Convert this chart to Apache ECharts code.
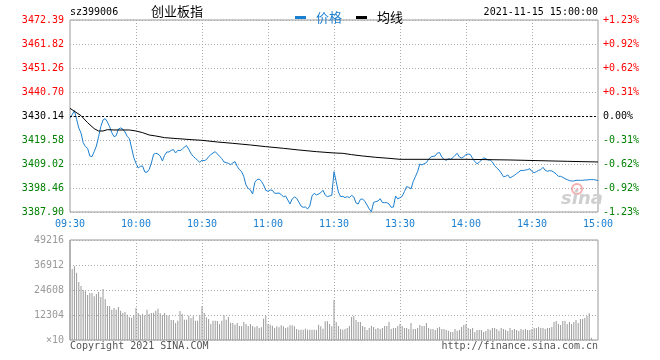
<!DOCTYPE html>
<html><head><meta charset="utf-8">
<script src="https://cdn.jsdelivr.net/npm/echarts@6/dist/echarts.min.js"></script>
<style>html,body{margin:0;padding:0;background:#fff}#c{width:660px;height:360px}</style>
</head><body><div id="c"></div>
<script>
// ---- categories: one point per trading minute (09:30..11:30, 13:01..15:00)
const times = [];
for (let m = 0; m <= 120; m++) { const t = 570 + m; times.push(String(Math.floor(t/60)).padStart(2,'0') + ':' + String(t%60).padStart(2,'0')); }
for (let m = 1; m <= 120; m++) { const t = 780 + m; times.push(String(Math.floor(t/60)).padStart(2,'0') + ':' + String(t%60).padStart(2,'0')); }

const timeLabels = ['09:30','10:00','10:30','11:00','11:30','13:30','14:00','14:30','15:00'];
const priceTicks = ['3387.90','3398.46','3409.02','3419.58','3430.14','3440.70','3451.26','3461.82','3472.39'];
const pctTicks = ['-1.23%','-0.92%','-0.62%','-0.31%','0.00%','+0.31%','+0.62%','+0.92%','+1.23%'];
const volTicks = ['\u00d710','12304','24608','36912','49216'];

const priceMin = 3387.90, priceMax = 3472.39, prevClose = 3430.14;
const volMax = 49216;

// price (blue line), read per minute
const price = [
3429.12,3430.74,3432.50,3428.68,3424.87,3422.67,3418.42,3416.66,3415.92,3412.55,
3412.26,3414.46,3416.95,3421.06,3425.46,3428.39,3428.98,3427.51,3425.46,3422.82,
3421.06,3421.50,3424.43,3424.87,3424.43,3423.11,3421.20,3420.18,3416.07,3411.82,
3409.32,3407.27,3408.00,3408.15,3405.51,3405.36,3406.68,3409.47,3413.28,3413.72,
3413.43,3412.55,3410.35,3412.84,3414.31,3414.31,3415.04,3415.34,3413.87,3415.04,
3414.90,3415.48,3416.51,3417.10,3415.48,3413.58,3412.40,3411.52,3410.64,3409.76,
3410.70,
3410.50,3410.94,3412.26,3413.14,3413.87,3414.46,3413.43,3412.40,3411.38,3409.91,
3409.62,3409.32,3408.74,3409.47,3410.06,3408.00,3406.54,3405.66,3403.46,3399.79,
3398.32,3397.59,3395.83,3400.96,3402.14,3402.43,3401.40,3399.79,3397.44,3397.00,
3397.59,3397.44,3396.12,3396.12,3396.27,3395.54,3394.66,3394.95,3393.19,3391.43,
3393.63,3394.51,3393.92,3392.31,3390.55,3389.96,3390.11,3389.23,3390.55,3394.95,
3396.12,3395.39,3395.83,3396.42,3397.44,3395.39,3394.66,3394.95,3395.24,3405.66,
3401.26,3396.71,3394.66,3394.80,3394.22,3394.66,3394.22,3395.24,3394.51,3391.87,
3391.43,3393.48,3393.63,3392.60,3390.99,3389.23,3388.06,3392.16,3392.46,3392.75,
3393.78,3392.02,3392.02,3392.02,3391.43,3389.96,3390.11,3394.95,3393.63,3394.22,
3394.80,3396.86,3399.06,3398.76,3398.03,3401.26,3403.46,3405.66,3409.03,3408.59,
3409.18,3409.62,3411.08,3412.11,3412.40,3412.55,3413.87,3414.02,3412.11,3411.08,
3410.64,3411.38,3411.08,3411.82,3412.84,3413.72,3412.11,3411.67,3412.26,3413.14,
3413.43,3413.14,3411.52,3410.06,3409.18,3409.76,3410.79,3411.67,3411.38,3410.79,
3410.79,3409.91,3408.30,3407.27,3406.39,3405.07,3403.46,3403.60,3404.19,3402.87,
3403.46,3404.04,3404.78,3405.51,3406.24,3406.10,3406.39,3406.54,3406.98,3405.66,
3405.22,3405.66,3406.24,3406.54,3407.56,3406.24,3405.80,3406.10,3405.95,3405.36,
3404.63,3403.60,3403.60,3403.16,3402.58,3402.14,3401.70,3401.55,3401.55,3401.84,
3401.84,3401.84,3401.84,3401.99,3401.99,3402.14,3402.14,3402.14,3401.99,3401.70
];

// average line (black), read at these minute indices
const avgIndex = [0,5,8,11,13,15,17,20,27,30,33,36,39,43,49,55,60,67,74,82,89,97,104,112,120,124,128,133,139,145,150,180,200,226,240];
const avgValue = [3433.52,3430.30,3427.22,3424.58,3423.55,3423.55,3424.14,3423.99,3423.99,3423.55,3422.82,3421.79,3421.35,3420.62,3420.18,3419.74,3419.44,3418.71,3418.12,3417.39,3416.66,3415.92,3415.19,3414.46,3413.87,3413.72,3413.14,3412.55,3411.96,3411.52,3411.08,3411.08,3410.79,3410.20,3409.91];

// volume (x10), read per minute
const volume = [
49216,34943,36255,33138,28545,26576,24608,23951,22147,23131,
23131,21491,22639,23623,21162,25100,20178,16733,16733,14929,
15749,14929,16241,14436,13288,13780,12468,11319,10991,12140,
15749,13288,12140,12796,12140,14929,12796,13288,13452,14436,
15421,13124,12140,13288,12140,11976,9843,9843,8367,9515,
14272,12796,10007,10007,11976,10827,11648,9515,9515,12140,
16569,13288,11155,10335,7874,9515,9515,9351,7874,9515,
12140,10007,11319,8367,8367,7546,8367,6890,6890,8859,
7874,6890,7874,6890,6234,6890,5906,6234,10499,11812,
7874,7546,7054,5906,6726,6234,7218,6726,5906,6234,
7218,7218,6726,5414,5086,5086,5086,5578,5086,5086,
5086,5086,4922,7546,6726,5578,9187,9187,7874,6726,
19686,
8859,6890,5414,5086,5414,5906,6890,11319,11812,9843,
8859,8859,6890,6398,4922,5906,6890,6398,5414,5906,
5414,5906,6890,6890,8859,5414,5906,5906,6890,7874,
6890,5906,5906,5414,8367,5414,5414,5906,7382,6890,
6890,8367,5906,5414,5414,4922,5906,6398,5414,5414,
4922,4593,3937,3937,5414,4593,4922,6398,7382,7874,
5906,5414,5906,3937,4922,4922,4922,3937,4429,5414,
4922,5906,5906,5414,4593,5906,5414,4922,4429,5906,
4922,5414,4922,4429,5414,4922,5414,4922,4922,5414,
5906,5906,6398,5906,5906,5414,5906,5906,6398,8859,
9351,7874,7382,9351,9351,7874,8859,7874,8859,9843,
8367,10335,10335,10827,11812,13124,1148,0,0,0
];

const BLUE = '#1b7fcf', RED = '#ff0000', GREEN = '#008000';
const MONO = '"DejaVu Sans Mono", monospace';
const step = (priceMax - priceMin) / 8;
const tickIdx = v => Math.round((v - priceMin) / step);
const colorOf = v => { const k = tickIdx(v); return k > 4 ? RED : (k < 4 ? GREEN : '#000'); };
const vSplit = i => i % 30 === 0 && i > 0 && i < 240;
const dotted = { color: '#aaa', type: [1, 2], width: 1 };

const chart = echarts.init(document.getElementById('c'), null, { renderer: 'canvas' });
chart.setOption({
  animation: false,
  backgroundColor: '#fff',
  grid: [
    { left: 70, right: 62, top: 20, height: 192, show: true, borderColor: '#999', borderWidth: 1, backgroundColor: 'transparent' },
    { left: 70, right: 62, top: 240, height: 100, show: true, borderColor: '#999', borderWidth: 1, backgroundColor: 'transparent' }
  ],
  legend: {
    left: 290, top: 6, itemGap: 14, itemWidth: 11, itemHeight: 3, icon: 'rect',
    data: [
      { name: '价格', textStyle: { color: BLUE } },
      { name: '均线', textStyle: { color: '#000' } }
    ],
    textStyle: { fontSize: 13, fontFamily: '"Noto Sans CJK SC", sans-serif', padding: [0, 0, 0, 5] }
  },
  xAxis: [
    { type: 'category', gridIndex: 0, data: times, boundaryGap: false,
      axisLine: { show: false }, axisTick: { show: false },
      axisLabel: { interval: i => i % 30 === 0, margin: 7, color: BLUE, fontFamily: MONO, fontSize: 10,
        formatter: (v, i) => timeLabels[Math.round(i / 30)] },
      splitLine: { show: true, interval: vSplit, lineStyle: dotted } },
    { type: 'category', gridIndex: 1, data: times, boundaryGap: false,
      axisLine: { show: false }, axisTick: { show: false }, axisLabel: { show: false },
      splitLine: { show: true, interval: vSplit, lineStyle: dotted } }
  ],
  yAxis: [
    { type: 'value', gridIndex: 0, min: priceMin, max: priceMax, interval: step, scale: true,
      axisLine: { show: false }, axisTick: { show: false },
      axisLabel: { margin: 6, fontFamily: MONO, fontSize: 10, color: v => colorOf(v), formatter: v => priceTicks[tickIdx(v)] },
      splitLine: { show: true, lineStyle: dotted } },
    { type: 'value', gridIndex: 0, position: 'right', min: priceMin, max: priceMax, interval: step, scale: true,
      axisLine: { show: false }, axisTick: { show: false },
      axisLabel: { margin: 5, fontFamily: MONO, fontSize: 10, color: v => colorOf(v), formatter: v => pctTicks[tickIdx(v)] },
      splitLine: { show: false } },
    { type: 'value', gridIndex: 1, min: 0, max: volMax, interval: 12304,
      axisLine: { show: false }, axisTick: { show: false },
      axisLabel: { margin: 6, fontFamily: MONO, fontSize: 10, color: '#999', formatter: v => volTicks[Math.round(v / 12304)] },
      splitLine: { show: true, lineStyle: dotted } }
  ],
  series: [
    { name: '价格', type: 'line', xAxisIndex: 0, yAxisIndex: 0, data: price, showSymbol: false, symbol: 'none',
      lineStyle: { color: BLUE, width: 1 }, itemStyle: { color: BLUE }, z: 3,
      markLine: { silent: true, symbol: 'none', label: { show: false },
        lineStyle: { color: '#000', type: [2, 2], width: 1 }, data: [{ yAxis: prevClose }] } },
    { name: '均线', type: 'line', xAxisIndex: 0, yAxisIndex: 0, data: avgIndex.map((x, k) => [x, avgValue[k]]),
      showSymbol: false, symbol: 'none', lineStyle: { color: '#000', width: 1 }, itemStyle: { color: '#000' }, z: 4 },
    { name: '成交量', type: 'bar', xAxisIndex: 1, yAxisIndex: 2, data: volume, barWidth: 1, clip: false,
      itemStyle: { color: '#999' }, z: 5 }
  ],
  graphic: [
    { type: 'text', left: 70, top: 7, style: { text: 'sz399006', font: '10px ' + MONO, fill: '#000' } },
    { type: 'text', left: 151, top: 5, style: { text: '创业板指', font: '13px "Noto Sans CJK SC"', fill: '#000' } },
    { type: 'text', right: 62, top: 7, style: { text: '2021-11-15 15:00:00', font: '10px ' + MONO, fill: '#000' } },
    { type: 'text', left: 70, top: 341, style: { text: 'Copyright 2021 SINA.COM', font: '10px ' + MONO, fill: '#555' } },
    { type: 'text', right: 62, top: 341, style: { text: 'http://finance.sina.com.cn', font: '10px ' + MONO, fill: '#555' } },
    { type: 'circle', z: 0, shape: { cx: 577, cy: 189, r: 5 }, style: { fill: 'none', stroke: '#f4b0b0', lineWidth: 2 } },
    { type: 'circle', z: 0, shape: { cx: 577, cy: 190, r: 1.5 }, style: { fill: '#f4b0b0' } },
    { type: 'text', z: 0, left: 561, top: 190, style: { text: 'sina', font: 'italic bold 18px "DejaVu Sans"', fill: '#cfcfcf' } }
  ]
});
</script></body></html>
